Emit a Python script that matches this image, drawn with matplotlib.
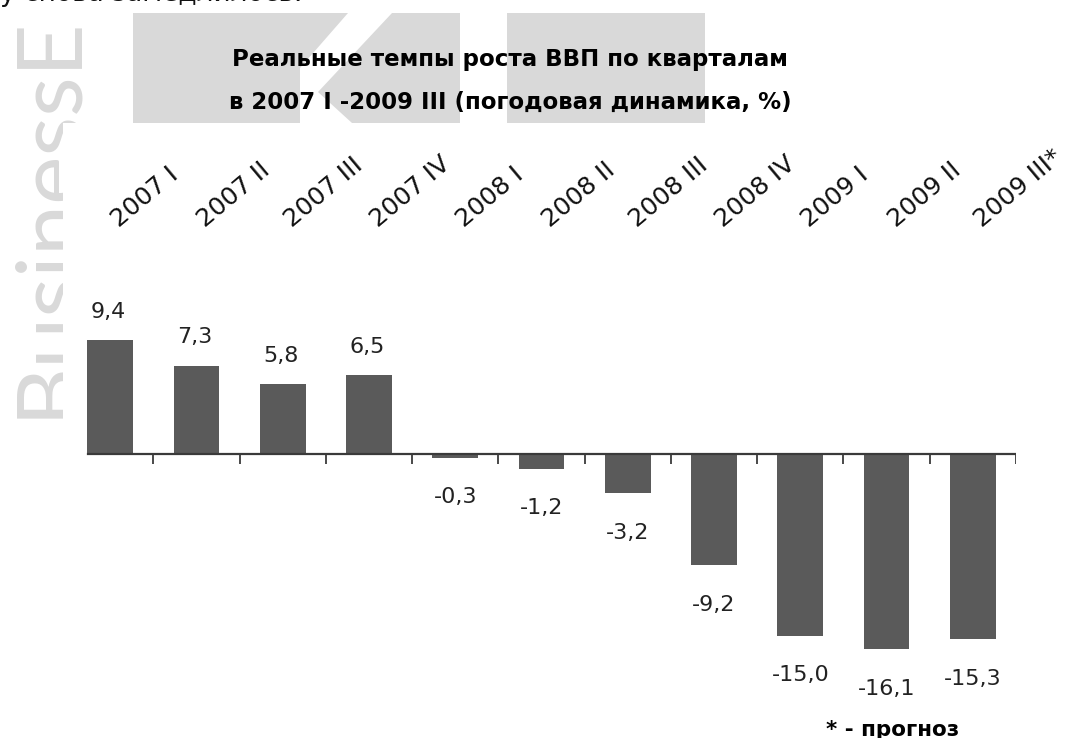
import numpy as np
import matplotlib.pyplot as plt
import matplotlib.transforms as mtransforms
from matplotlib.patches import Polygon, Rectangle

# data
quarters = ['2007 I', '2007 II', '2007 III', '2007 IV', '2008 I', '2008 II',
            '2008 III', '2008 IV', '2009 I', '2009 II', '2009 III*']
growth = [9.4, 7.3, 5.8, 6.5, -0.3, -1.2, -3.2, -9.2, -15.0, -16.1, -15.3]
value_labels = ['9,4', '7,3', '5,8', '6,5', '-0,3', '-1,2', '-3,2', '-9,2',
                '-15,0', '-16,1', '-15,3']

W, H = 1081, 738
fig = plt.figure(figsize=(W / 100, H / 100), dpi=100)

# background layer: watermark and page text (pixel coords)
bg = fig.add_axes([0, 0, 1, 1], zorder=0)
bg.set_xlim(0, W)
bg.set_ylim(H, 0)
bg.axis('off')
wm = '#d9d9d9'
bg.add_patch(Polygon([(133, 13), (348, 13), (300, 68), (300, 123), (133, 123)],
                     closed=True, color=wm, lw=0, zorder=1))
bg.add_patch(Polygon([(392, 13), (460, 13), (460, 123), (352, 123), (318, 92)],
                     closed=True, color=wm, lw=0, zorder=1))
bg.add_patch(Rectangle((507, 13), 198, 110, color=wm, lw=0, zorder=1))
bg.text(90, 14, 'BusinessE', rotation=90, ha='right', va='top',
        fontsize=66, family='Lato', color=wm, zorder=1)
# chart image covers the watermark below
bg.add_patch(Rectangle((63, 123), W - 63, H - 123, color='white', lw=0, zorder=3))
bg.text(0, 1, 'у снова замедлилось.', fontsize=19, family='DejaVu Sans',
        va='baseline', ha='left', color='#111111', zorder=5)

# title
bg.text(510, 66, 'Реальные темпы роста ВВП по кварталам', ha='center',
        va='baseline', fontsize=16.5, weight='bold', family='DejaVu Sans', zorder=5)
bg.text(510, 109, 'в 2007 I -2009 III (погодовая динамика, %)', ha='center',
        va='baseline', fontsize=16.5, weight='bold', family='DejaVu Sans', zorder=5)
bg.text(826, 736, '* - прогноз', ha='left', va='baseline', fontsize=15.5,
        weight='bold', family='DejaVu Sans', zorder=5)

# chart axes: y=0 at 454px, 12.1 px per unit, categories 86.3 px wide
ymin, ymax = -20, 18
top_px = 454 - ymax * 12.1
bot_px = 454 - ymin * 12.1
ax = fig.add_axes([67 / W, (H - bot_px) / H, 949 / W, (bot_px - top_px) / H], zorder=2)
ax.patch.set_alpha(0)
x = np.arange(len(quarters))
ax.bar(x, growth, width=0.53, color='#5a5a5a', zorder=2)
ax.set_xlim(-0.5, len(quarters) - 0.5)
ax.set_ylim(ymin, ymax)

# zero axis with small ticks between categories
ax.axhline(0, xmin=21 / 949, xmax=1, color='#3a3a3a', lw=1.6, zorder=3)
ax.vlines(x + 0.5, -0.85, 0, color='#3a3a3a', lw=1.3, zorder=3)

for xi, v, lab in zip(x, growth, value_labels):
    if v >= 0:
        ax.annotate(lab, (xi, v), xytext=(-1, 16), textcoords='offset points',
                    ha='center', va='baseline', fontsize=16, color='#222222')
    else:
        ax.annotate(lab, (xi, v), xytext=(0, -33), textcoords='offset points',
                    ha='center', va='baseline', fontsize=16, color='#222222')

for s in ax.spines.values():
    s.set_visible(False)
ax.set_yticks([])
ax.xaxis.tick_top()
ax.set_xticks(x)
ax.set_xticklabels(quarters, fontsize=18, color='#111111')
ax.tick_params(axis='x', length=0, pad=6)
shift = mtransforms.ScaledTranslation(9 / 100, 0, fig.dpi_scale_trans)
for lbl in ax.get_xticklabels():
    lbl.set_rotation(40)
    lbl.set_ha('left')
    lbl.set_va('baseline')
    lbl.set_rotation_mode('anchor')
    lbl.set_transform(lbl.get_transform() + shift)

fig.savefig('out.png', dpi=100)
